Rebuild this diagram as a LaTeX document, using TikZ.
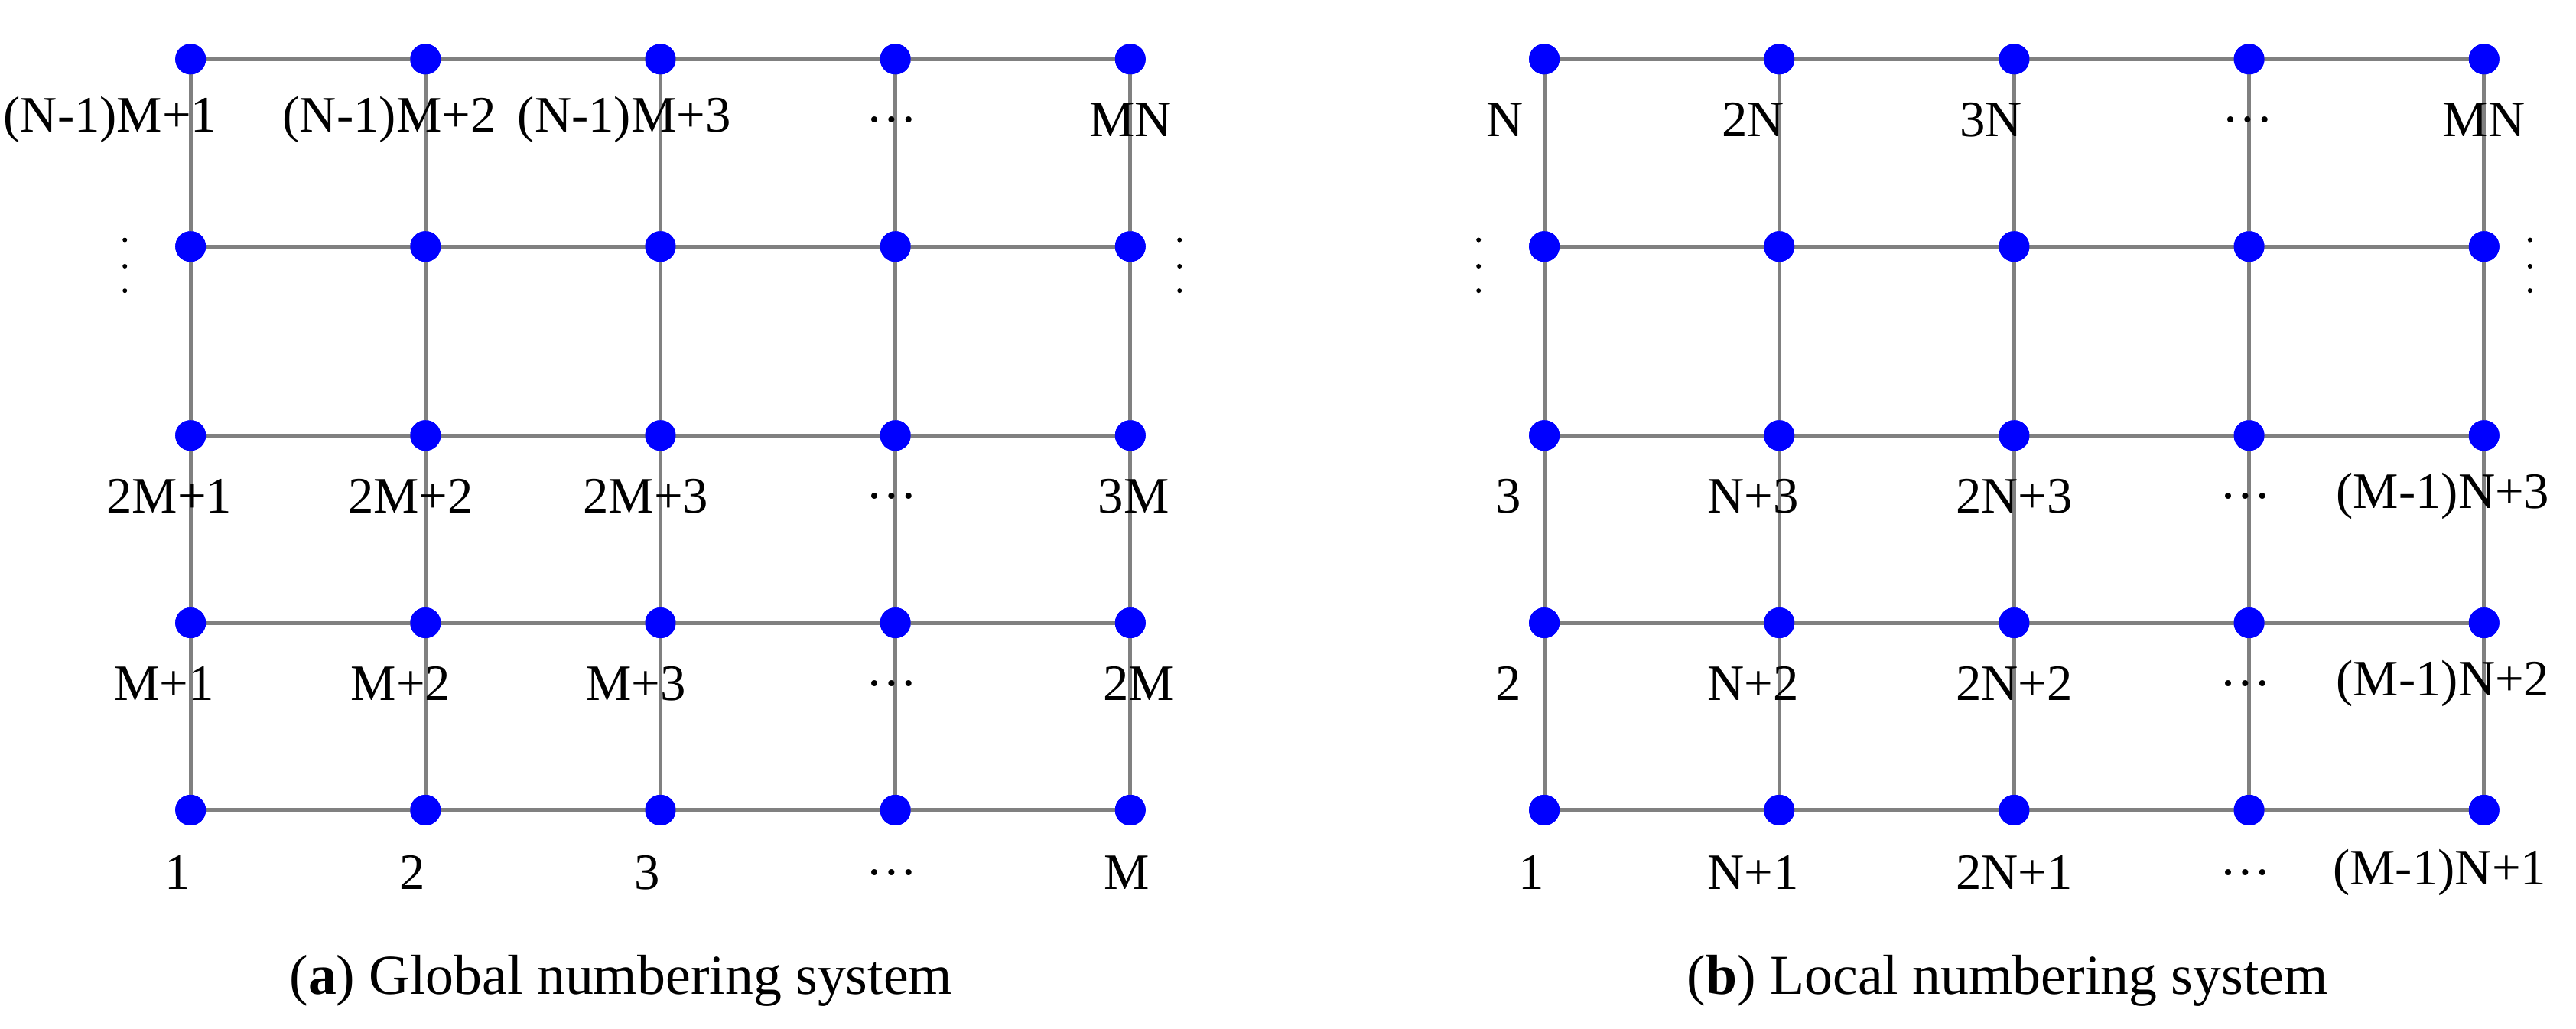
\documentclass[tikz,border=0pt]{standalone}
\usepackage{fontspec}
\setmainfont{Liberation Serif}
\begin{document}
\begin{tikzpicture}[x=0.02148cm,y=-0.02148cm,
  pt/.style={circle,fill={rgb,255:red,0;green,0;blue,255},inner sep=0pt,minimum size=0.4cm},
  ln/.style={draw=gray,line width=1.4pt},
  lab/.style={font=\fontsize{19}{21}\selectfont,inner sep=0pt},
  captxt/.style={font=\fontsize{21}{23}\selectfont,inner sep=0pt},
  vd/.style={circle,fill=black,inner sep=0pt,minimum size=0.06cm}]
\useasboundingbox (0,0) rectangle (1568,626);
\foreach \g/\xo in {L/116,R/940}{
  \foreach \i in {0,...,4}{
    \foreach \j/\yy in {0/493,1/379,2/265,3/150,4/36}{
      \node[pt] (\g\i\j) at ({\xo+143*\i},\yy) {};
    }
  }
  \foreach \i in {0,...,4}{
    \draw[ln] (\g\i0.center) -- (\g\i4.center);
    \draw[ln] (\g0\i.center) -- (\g4\i.center);
  }
  \foreach \i in {0,...,4}{\foreach \j in {0,...,4}{\node[pt] at (\g\i\j) {};}}
}
% left labels
\foreach \x/\t in {67/(N-1)M+1,237/(N-1)M+2,380/(N-1)M+3,543/…,688/MN}{\node[lab] (tl\x) at (\x,73) {\t};}
\foreach \x/\t in {103/2M+1,250/2M+2,393/2M+3,543/…,690/3M}{\node[lab] (sl\x) at (\x,302) {\t};}
\foreach \x/\t in {100/M+1,244/M+2,387/M+3,543/…,693/2M}{\node[lab] (ml\x) at (\x,416) {\t};}
\foreach \x/\t in {108/1,251/2,394/3,543/…,686/M}{\node[lab] (bl\x) at (\x,531) {\t};}
% right labels
\foreach \x/\t in {916/N,1067/2N,1212/3N,1368/…,1512/MN}{\node[lab] (tr\x) at (\x,73) {\t};}
\foreach \x/\t in {918/3,1067/N+3,1226/2N+3,1367/…,1487/(M-1)N+3}{\node[lab] (sr\x) at (\x,302) {\t};}
\foreach \x/\t in {918/2,1067/N+2,1226/2N+2,1367/…,1487/(M-1)N+2}{\node[lab] (mr\x) at (\x,416) {\t};}
\foreach \x/\t in {932/1,1067/N+1,1226/2N+1,1367/…,1485/(M-1)N+1}{\node[lab] (br\x) at (\x,531) {\t};}
% vertical dots
\foreach \x in {76,718,900,1540}{\foreach \y in {146,162,177}{\node[vd] (v\x\y) at (\x,\y) {};}}
% captions
\node[captxt] (ca) at (378,597) {(\textbf{a}) Global numbering system};
\node[captxt] (cb) at (1222,597) {(\textbf{b}) Local numbering system};
\end{tikzpicture}
\end{document}
